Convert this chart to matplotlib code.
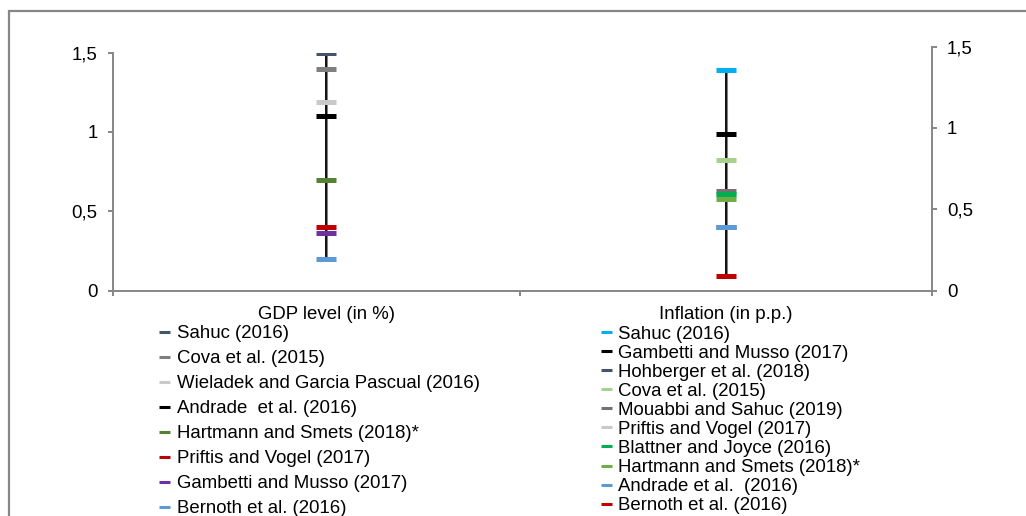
import matplotlib
matplotlib.use("Agg")
import matplotlib.pyplot as plt
from matplotlib.lines import Line2D
from matplotlib.patches import Rectangle

plt.rcParams['font.family'] = ['Liberation Sans', 'DejaVu Sans']

# ---------------- data ----------------
categories = ["GDP level (in %)", "Inflation (in p.p.)"]

gdp_labels = ["Sahuc (2016)", "Cova et al. (2015)", "Wieladek and Garcia Pascual (2016)",
              "Andrade  et al. (2016)", "Hartmann and Smets (2018)*", "Priftis and Vogel (2017)",
              "Gambetti and Musso (2017)", "Bernoth et al. (2016)"]
gdp_values = [1.50, 1.40, 1.19, 1.10, 0.70, 0.40, 0.36, 0.20]
gdp_colors = ["#44546A", "#7F7F7F", "#C9C9C9", "#000000", "#548235", "#C00000", "#7030A0", "#5B9BD5"]

inf_labels = ["Sahuc (2016)", "Gambetti and Musso (2017)", "Hohberger et al. (2018)",
              "Cova et al. (2015)", "Mouabbi and Sahuc (2019)", "Priftis and Vogel (2017)",
              "Blattner and Joyce (2016)", "Hartmann and Smets (2018)*", "Andrade et al.  (2016)",
              "Bernoth et al. (2016)"]
inf_values = [1.355, 0.96, 0.39, 0.80, 0.615, 0.59, 0.595, 0.565, 0.39, 0.09]
inf_colors = ["#00B0F0", "#000000", "#44546A", "#A9D18E", "#767171", "#C9C9C9",
              "#00B050", "#70AD47", "#5B9BD5", "#C00000"]

yticks = [0, 0.5, 1, 1.5]
ytick_labels = ["0", "0,5", "1", "1,5"]

# ---------------- layout ----------------
W, H = 1026, 516
fig = plt.figure(figsize=(W / 100, H / 100), dpi=100)
FS = 13.4
spine_c = "#868686"

left = 113 / W
width = 931.7 / W - left
bottom = 1 - 290.5 / H
ax1 = fig.add_axes([left, bottom, width, (290.5 - 52.7) / H])
ax2 = fig.add_axes([left, bottom, width, (290.5 - 46.7) / H])
ax2.patch.set_visible(False)

xl = (-0.5325, 1.514)
for ax in (ax1, ax2):
    ax.set_xlim(*xl)
    ax.set_ylim(0, 1.5)
    ax.set_yticks(yticks)
    ax.set_yticklabels(ytick_labels, fontsize=FS)
    for s in ax.spines.values():
        s.set_visible(False)

ax1.spines['left'].set_visible(True)
ax1.spines['bottom'].set_visible(True)
ax1.spines['left'].set_color(spine_c)
ax1.spines['bottom'].set_color(spine_c)
ax1.spines['left'].set_linewidth(1.4)
ax1.spines['bottom'].set_linewidth(1.4)
ax1.tick_params(axis='y', direction='out', length=3.6, width=1.4, color=spine_c, pad=7.5)

ax2.spines['right'].set_visible(True)
ax2.spines['right'].set_color(spine_c)
ax2.spines['right'].set_linewidth(1.4)
ax2.yaxis.tick_right()
ax2.tick_params(axis='y', direction='out', length=3.6, width=1.4, color=spine_c, pad=7.5)
ax2.set_xticks([])

# category labels and boundary ticks
ax1.set_xticks([0, 1])
ax1.set_xticklabels(categories, fontsize=FS)
ax1.tick_params(axis='x', which='major', length=0, pad=11)
ax1.set_xticks([xl[0], 0.485, xl[1]], minor=True)
ax1.tick_params(axis='x', which='minor', direction='out', length=3.6, width=1.4, color=spine_c)

# ---------------- marks ----------------
def draw(ax, xpos, values, colors):
    lo, hi = min(values), max(values)
    ax.plot([xpos, xpos], [lo, hi], color="#808080", lw=2.2, solid_capstyle='butt', zorder=2)
    ax.plot([xpos, xpos], [lo, hi], color="#000000", lw=1.2, solid_capstyle='butt', zorder=3)
    for v, c in zip(values, colors):
        ax.plot([xpos], [v], marker='_', ms=14.4, mew=3.6, color=c, zorder=4, linestyle='none')

draw(ax1, 0, gdp_values, gdp_colors)
draw(ax2, 1, inf_values, inf_colors)

# ---------------- legends ----------------
def handles(colors):
    return [Line2D([0], [0], color=c, lw=2.2, solid_capstyle='butt') for c in colors]

leg1 = fig.legend(handles(gdp_colors), gdp_labels, loc='upper left',
                  bbox_to_anchor=(159.3 / W, 1 - 325.0 / H), bbox_transform=fig.transFigure,
                  frameon=False, fontsize=FS, handlelength=0.6, handletextpad=0.33,
                  labelspacing=0.43, borderpad=0, borderaxespad=0)
leg2 = fig.legend(handles(inf_colors), inf_labels, loc='upper left',
                  bbox_to_anchor=(600.7 / W, 1 - 325.5 / H), bbox_transform=fig.transFigure,
                  frameon=False, fontsize=FS, handlelength=0.6, handletextpad=0.33,
                  labelspacing=0.11, borderpad=0, borderaxespad=0)

# outer frame
fig.patches.append(Rectangle((8.5 / W, -0.05), 1.1, 1 - 11 / H + 0.05, transform=fig.transFigure,
                             fill=False, edgecolor=spine_c, lw=1.6))

fig.savefig("out.png", dpi=100)
